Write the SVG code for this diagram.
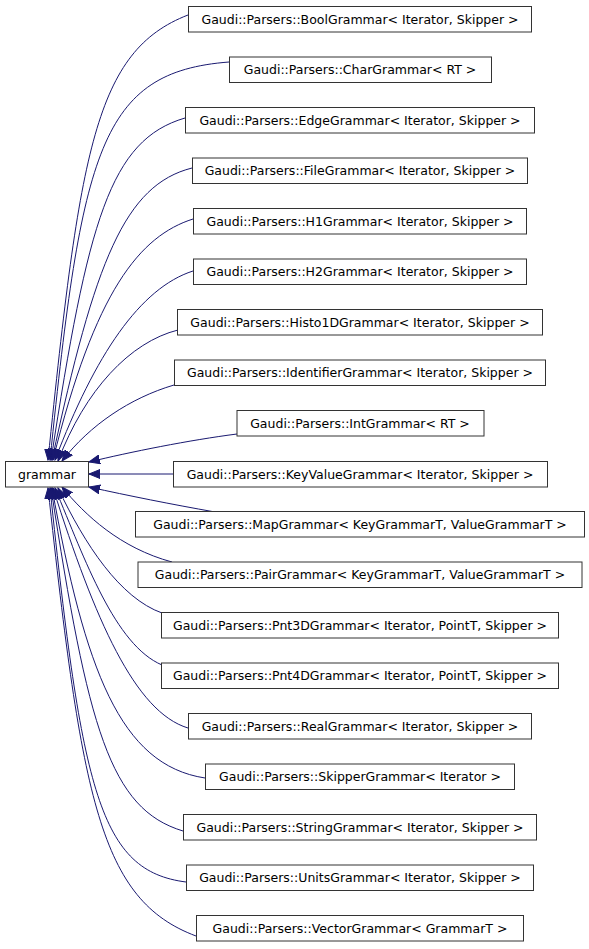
<svg xmlns="http://www.w3.org/2000/svg" width="589" height="949" viewBox="0 0 589 949">
<style>
.n rect{fill:#fff;stroke:#333;stroke-width:1}
.n text{font-family:"DejaVu Sans",sans-serif;font-size:12.5px;fill:#000;text-anchor:middle}
.e path{fill:none;stroke:#191970;stroke-width:1;marker-end:url(#ah)}
</style>
<defs>
<marker id="ah" markerWidth="12" markerHeight="10" refX="11" refY="5" orient="auto" markerUnits="userSpaceOnUse">
<path d="M0,0.5 L11,5 L0,9.5 z" fill="#191970" stroke="#191970" stroke-width="1"/>
</marker>
</defs>
<rect width="589" height="949" fill="#fff"/>
<g class="e" id="edges">
<path d="M188,15 C95,51 80,150 48,460"/>
<path d="M229,62 C100,72 82,150 50,460"/>
<path d="M185,118 C110,140 88,220 51,460"/>
<path d="M192,168 C125,185 95,260 52,460"/>
<path d="M193,219 C140,236 95,290 53,460"/>
<path d="M193,271 C140,288 95,355 55,460"/>
<path d="M178,330 C130,342 85,390 58,461"/>
<path d="M174,385 C130,398 90,425 62,461"/>
<path d="M237,434 C190,440 130,452 89,462"/>
<path d="M173,474 L89,474"/>
<path d="M215,512 C170,504 130,496 89,487"/>
<path d="M172,562 C120,548 85,515 62,487"/>
<path d="M162,613 C120,598 85,545 58,488"/>
<path d="M162,665 C115,645 85,560 55,488"/>
<path d="M188,728 C135,712 95,620 53,488"/>
<path d="M205,778 C120,765 85,670 52,488"/>
<path d="M183,831 C110,809 88,729 51,488"/>
<path d="M186,882 C100,871 82,793 50,488"/>
<path d="M196,936 C100,900 82,800 48,488"/>
</g>
<g class="n" id="grammar"><rect x="5.5" y="461.5" width="83" height="25.5"/><text x="47" y="478.5">grammar</text></g>
<g class="n" id="bool"><rect x="188.5" y="6.5" width="343" height="25.5"/><text x="360" y="23.5">Gaudi::Parsers::BoolGrammar&lt; Iterator, Skipper &gt;</text></g>
<g class="n" id="char"><rect x="229.5" y="57" width="262" height="25.5"/><text x="360" y="74">Gaudi::Parsers::CharGrammar&lt; RT &gt;</text></g>
<g class="n" id="edge"><rect x="185.5" y="107.5" width="349" height="25.5"/><text x="360" y="124.5">Gaudi::Parsers::EdgeGrammar&lt; Iterator, Skipper &gt;</text></g>
<g class="n" id="file"><rect x="192.5" y="158" width="335" height="25.5"/><text x="360" y="175">Gaudi::Parsers::FileGrammar&lt; Iterator, Skipper &gt;</text></g>
<g class="n" id="h1"><rect x="193.5" y="208.5" width="333" height="25.5"/><text x="360" y="225.5">Gaudi::Parsers::H1Grammar&lt; Iterator, Skipper &gt;</text></g>
<g class="n" id="h2"><rect x="193.5" y="259" width="333" height="25.5"/><text x="360" y="276">Gaudi::Parsers::H2Grammar&lt; Iterator, Skipper &gt;</text></g>
<g class="n" id="histo1d"><rect x="177.5" y="309.5" width="365" height="25.5"/><text x="360" y="326.5">Gaudi::Parsers::Histo1DGrammar&lt; Iterator, Skipper &gt;</text></g>
<g class="n" id="identifier"><rect x="174.5" y="360" width="371" height="25.5"/><text x="360" y="377">Gaudi::Parsers::IdentifierGrammar&lt; Iterator, Skipper &gt;</text></g>
<g class="n" id="int"><rect x="237" y="410.5" width="247" height="25.5"/><text x="360" y="427.5">Gaudi::Parsers::IntGrammar&lt; RT &gt;</text></g>
<g class="n" id="keyvalue"><rect x="173.5" y="461.5" width="374" height="25.5"/><text x="360" y="478.5">Gaudi::Parsers::KeyValueGrammar&lt; Iterator, Skipper &gt;</text></g>
<g class="n" id="map"><rect x="135.5" y="511.5" width="449" height="25.5"/><text x="360" y="528.5">Gaudi::Parsers::MapGrammar&lt; KeyGrammarT, ValueGrammarT &gt;</text></g>
<g class="n" id="pair"><rect x="138" y="562" width="444" height="25.5"/><text x="360" y="579">Gaudi::Parsers::PairGrammar&lt; KeyGrammarT, ValueGrammarT &gt;</text></g>
<g class="n" id="pnt3d"><rect x="161.5" y="612.5" width="397" height="25.5"/><text x="360" y="629.5">Gaudi::Parsers::Pnt3DGrammar&lt; Iterator, PointT, Skipper &gt;</text></g>
<g class="n" id="pnt4d"><rect x="161.5" y="663" width="397" height="25.5"/><text x="360" y="680">Gaudi::Parsers::Pnt4DGrammar&lt; Iterator, PointT, Skipper &gt;</text></g>
<g class="n" id="real"><rect x="188.5" y="713.5" width="343" height="25.5"/><text x="360" y="730.5">Gaudi::Parsers::RealGrammar&lt; Iterator, Skipper &gt;</text></g>
<g class="n" id="skipper"><rect x="205.5" y="764" width="309" height="25.5"/><text x="360" y="781">Gaudi::Parsers::SkipperGrammar&lt; Iterator &gt;</text></g>
<g class="n" id="string"><rect x="183.5" y="814.5" width="353" height="25.5"/><text x="360" y="831.5">Gaudi::Parsers::StringGrammar&lt; Iterator, Skipper &gt;</text></g>
<g class="n" id="units"><rect x="186.5" y="865" width="347" height="25.5"/><text x="360" y="882">Gaudi::Parsers::UnitsGrammar&lt; Iterator, Skipper &gt;</text></g>
<g class="n" id="vector"><rect x="196.5" y="915.5" width="327" height="25.5"/><text x="360" y="932.5">Gaudi::Parsers::VectorGrammar&lt; GrammarT &gt;</text></g>
</svg>
